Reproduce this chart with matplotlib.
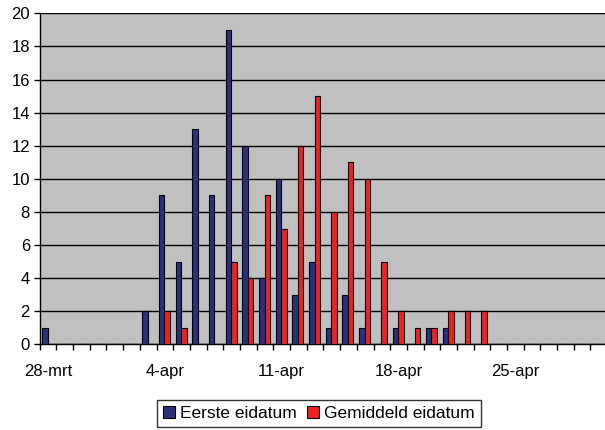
import matplotlib

matplotlib.use("Agg")
import matplotlib.pyplot as plt
import numpy as np
from matplotlib.patches import Patch

# one category per day, 28-mrt .. 30-apr
days = ["28-mrt", "29-mrt", "30-mrt", "31-mrt"] + [f"{d}-apr" for d in range(1, 31)]
eerste = [1, 0, 0, 0, 0, 0, 2, 9, 5, 13, 9, 19, 12, 4, 10, 3, 5, 1, 3, 1,
          0, 1, 0, 1, 1, 0, 0, 0, 0, 0, 0, 0, 0, 0]
gemiddeld = [0, 0, 0, 0, 0, 0, 0, 2, 1, 0, 0, 5, 4, 9, 7, 12, 15, 8, 11, 10,
             5, 2, 1, 1, 2, 2, 2, 0, 0, 0, 0, 0, 0, 0]

plt.rcParams["font.family"] = ["Liberation Sans", "DejaVu Sans"]

fig = plt.figure(figsize=(6.05, 4.3), dpi=100)
ax = fig.add_axes([0.0656, 0.199, 0.938, 0.770])
ax.set_facecolor("#C0C0C0")

x = np.arange(len(days))
w = 0.33
ax.bar(x - w / 2 - 0.03, eerste, w, color="#2B2F7E", edgecolor="black", linewidth=0.8,
       label="Eerste eidatum", zorder=3)
ax.bar(x + w / 2 - 0.03, gemiddeld, w, color="#EE2222", edgecolor="black", linewidth=0.8,
       label="Gemiddeld eidatum", zorder=3)

ax.set_xlim(-0.5, len(days) - 0.5)
ax.set_ylim(0, 20)
ax.set_yticks(range(0, 21, 2))
ax.yaxis.grid(True, color="black", linewidth=1.0, zorder=0)

# ticks between categories, labels every week
ax.set_xticks(x - 0.5, minor=True)
ax.set_xticks(x[::7])
ax.set_xticklabels(days[::7])
ax.tick_params(axis="x", which="major", length=0, pad=14, labelsize=12)
ax.tick_params(axis="x", which="minor", length=4, width=1, direction="out")
ax.tick_params(axis="y", length=4, width=1, labelsize=12, pad=3)

for s in ["top", "right"]:
    ax.spines[s].set_visible(False)
ax.spines["left"].set_linewidth(1.0)
ax.spines["bottom"].set_linewidth(1.0)

handles = [Patch(facecolor="#2B2F7E", edgecolor="black", linewidth=0.8),
           Patch(facecolor="#EE2222", edgecolor="black", linewidth=0.8)]
fig.legend(handles, ["Eerste eidatum", "Gemiddeld eidatum"], loc="upper center",
           bbox_to_anchor=(0.527, 0.09), ncol=2, fontsize=12.5, frameon=True,
           fancybox=False, edgecolor="black", handlelength=0.7, handleheight=0.7,
           handletextpad=0.3, columnspacing=0.6, borderpad=0.35)

fig.savefig("out.png", dpi=100)
